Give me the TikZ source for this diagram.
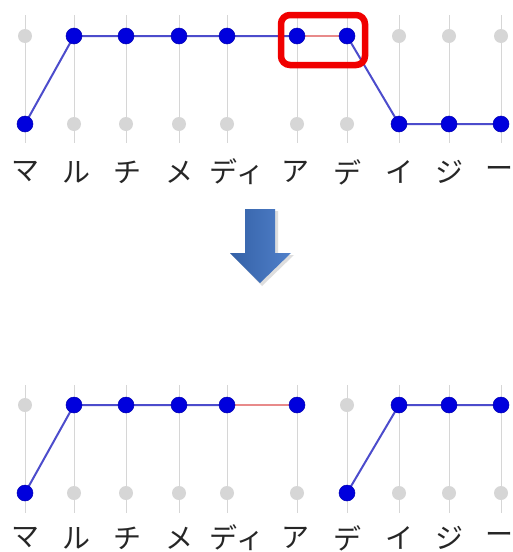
\documentclass[tikz,border=0pt]{standalone}
\usepackage{fontspec}
\newfontfamily\jpfont{Noto Sans CJK JP}
\usetikzlibrary{calc}
\definecolor{vline}{HTML}{D6D6D6}
\definecolor{graydot}{HTML}{D6D6D6}
\definecolor{bluedot}{HTML}{0000DD}
\definecolor{blueline}{HTML}{4C4CCC}
\definecolor{redline}{HTML}{E88A8A}
\definecolor{boxred}{HTML}{F00000}
\definecolor{arrowblue}{HTML}{3D72C4}
\tikzset{
  gdot/.style={circle,fill=graydot,inner sep=0pt,minimum size=14pt},
  bdot/.style={circle,fill=bluedot,draw=blue!70!black,line width=0.5pt,inner sep=0pt,minimum size=16pt},
  hidden/.style={circle,inner sep=0pt,minimum size=1pt},
  bedge/.style={draw=blueline,line width=2pt},
  redge/.style={draw=redline,line width=2pt},
  grid/.style={draw=vline,line width=1pt},
  lab/.style={font=\jpfont\fontsize{28}{28}\selectfont,inner sep=0pt,text=black!85},
  hilite/.style={draw=boxred,line width=6.5pt,rounded corners=9pt},
}
\begin{document}
\begin{tikzpicture}[x=1pt,y=-1pt]
\useasboundingbox (0,0) rectangle (512,552);
\fill[white] (0,0) rectangle (512,552);
% column positions
\def\cols{1/25,2/74,3/126,4/179,5/227,6/297,7/347,8/399,9/449,10/501}
% ---------- top lattice ----------
\foreach \i/\x in \cols {
  \draw[grid] (\x,15) -- (\x,143);
}
\foreach \i/\x in \cols {
  \coordinate (THc\i) at (\x,36);
  \coordinate (TLc\i) at (\x,124);
}
\foreach \i in {1,8,9,10} \node[gdot] (TH\i) at (THc\i) {};
\foreach \i in {2,...,7} \node[gdot] (TL\i) at (TLc\i) {};
\node[hidden] (TL1) at (TLc1) {};
\foreach \i in {2,...,7} \node[hidden] (TH\i) at (THc\i) {};
\foreach \i in {8,9,10} \node[hidden] (TL\i) at (TLc\i) {};
\draw[bedge] (TL1.center) -- (TH2.center) -- (TH3.center) -- (TH4.center) -- (TH5.center) -- (TH6.center);
\draw[redge] (TH6.center) -- (TH7.center);
\draw[bedge] (TH7.center) -- (TL8.center) -- (TL9.center) -- (TL10.center);
\node[bdot] at (TL1) {};
\foreach \i in {2,...,7} \node[bdot] at (TH\i) {};
\foreach \i in {8,9,10} \node[bdot] at (TL\i) {};
% labels (top)
\node[lab] (tl1) at (25,172) {マ};
\node[lab] (tl2) at (76,172) {ル};
\node[lab] (tl3) at (127,172) {チ};
\node[lab] (tl4) at (179,172) {メ};
\node[lab] (tl5) at (237,172) {ディ};
\node[lab] (tl6) at (295,172) {ア};
\node[lab] (tl7) at (347,172) {デ};
\node[lab] (tl8) at (399,172) {イ};
\node[lab] (tl9) at (449,172) {ジ};
\node[lab] (tl10) at (499,172) {ー};
% highlight box
\node[hilite,minimum width=84pt,minimum height=50pt] (hl) at (323,40) {};
% ---------- arrow ----------
\fill[black!25,opacity=0.5] (247,211) -- (278,211) -- (278,255) -- (294,255) -- (262,286) -- (232,255) -- (247,255) -- cycle;
\node[inner sep=0pt] (arrowtop) at (260,209) {};
\node[inner sep=0pt] (arrowtip) at (260,283) {};
\shade[left color=arrowblue!85!black,right color=arrowblue!90!white]
  (245,209) -- (275,209) -- (275,253) -- (291,253) -- (arrowtip.center) -- (230,253) -- (245,253) -- cycle;
% ---------- bottom lattice ----------
\foreach \i/\x in \cols {
  \draw[grid] (\x,385) -- (\x,513);
}
\foreach \i/\x in \cols {
  \coordinate (BHc\i) at (\x,405);
  \coordinate (BLc\i) at (\x,493);
}
\foreach \i in {1,7} \node[gdot] (BH\i) at (BHc\i) {};
\foreach \i in {2,...,6,8,9,10} \node[gdot] (BL\i) at (BLc\i) {};
\node[hidden] (BL1) at (BLc1) {};
\foreach \i in {2,...,6} \node[hidden] (BH\i) at (BHc\i) {};
\node[hidden] (BL7) at (BLc7) {};
\foreach \i in {8,9,10} \node[hidden] (BH\i) at (BHc\i) {};
\draw[bedge] (BL1.center) -- (BH2.center) -- (BH3.center) -- (BH4.center) -- (BH5.center);
\draw[redge] (BH5.center) -- (BH6.center);
\draw[bedge] (BL7.center) -- (BH8.center) -- (BH9.center) -- (BH10.center);
\node[bdot] at (BL1) {};
\foreach \i in {2,...,6} \node[bdot] at (BH\i) {};
\node[bdot] at (BL7) {};
\foreach \i in {8,9,10} \node[bdot] at (BH\i) {};
% labels (bottom)
\node[lab] (bl1) at (25,538) {マ};
\node[lab] (bl2) at (76,538) {ル};
\node[lab] (bl3) at (127,538) {チ};
\node[lab] (bl4) at (179,538) {メ};
\node[lab] (bl5) at (237,538) {ディ};
\node[lab] (bl6) at (295,538) {ア};
\node[lab] (bl7) at (347,538) {デ};
\node[lab] (bl8) at (399,538) {イ};
\node[lab] (bl9) at (449,538) {ジ};
\node[lab] (bl10) at (499,538) {ー};
\end{tikzpicture}
\end{document}
